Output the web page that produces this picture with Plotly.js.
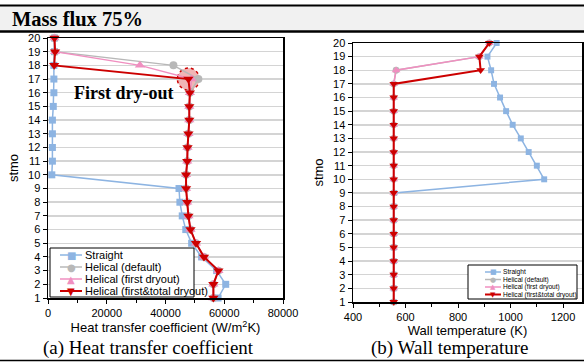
<!DOCTYPE html>
<html><head><meta charset="utf-8">
<script src="https://cdn.plot.ly/plotly-3.0.1.min.js"></script>
<style>body{margin:0;background:#fff}#c{width:584px;height:362px}</style>
</head><body><div id="c"></div>
<script>
const stmo = [1,2,3,4,5,6,7,8,9,10,11,12,13,14,15,16,17,18,19,20];
const seriesNames = ['Straight','Helical (default)','Helical (first dryout)','Helical (first&total dryout)'];
const htcStraight = [57900,60500,57400,52300,48900,46900,45700,44900,44600,1300,1500,1500,1500,1500,1800,2000,2000,2000,2200,2200];
const htcDefault  = [56300,56300,58000,53100,50400,48500,47800,47400,47000,47000,47400,47500,47800,48100,48100,48300,51200,42700,2400,2200];
const htcFirst    = [56300,56300,58000,53100,50400,48500,47800,47400,47000,47000,47400,47500,47800,48100,48100,48300,48900,31300,2400,2200];
const htcTotal    = [56300,56300,58000,53100,50400,48500,47800,47400,47000,47000,47400,47500,47800,48100,48100,48300,47800,2100,2400,2200];
const twStraight = [555,555,555,555,555,555,555,555,557,1128,1100,1069,1039,1008,983,960,937,926,912,947];
const twDefault  = [555,555,555,555,555,555,555,555,555,555,555,555,555,555,555,555,555,564,881,919];
const twFirst    = [555,555,555,555,555,555,555,555,555,555,555,555,555,555,555,555,555,564,881,919];
const twTotal    = [555,555,555,555,555,555,555,555,555,555,555,555,555,555,555,555,555,886,881,919];
const htcTicks = [0,20000,40000,60000,80000];
const twTicks = [400,600,800,1000,1200];

const W=584,H=362;
const px=x=>x/W, py=y=>1-y/H;
const colors=['#8db4e2','#b8b8b8','#f08fc0','#cc0000'];
const symbols=['square','circle','triangle-up','triangle-down'];
const widths=[1.5,1.5,1.5,2];
const sizes=[7,8,9,9];

function mk(xv, ax, ay, i, scale){
  return {x:xv, y:stmo, xaxis:ax, yaxis:ay, type:'scatter', mode:'lines+markers',
    line:{color:colors[i], width:widths[i]}, marker:{symbol:symbols[i], color:colors[i], size:sizes[i]*scale},
    cliponaxis:false, showlegend:false, name:seriesNames[i]};
}
const traces=[
  mk(htcStraight,'x','y',0,1), mk(htcDefault,'x','y',1,1), mk(htcFirst,'x','y',2,1), mk(htcTotal,'x','y',3,1),
  mk(twStraight,'x2','y2',0,0.85), mk(twDefault,'x2','y2',1,0.85), mk(twFirst,'x2','y2',2,0.85), mk(twTotal,'x2','y2',3,0.85)
];

const tickFont={family:'Liberation Sans, Arial',size:11,color:'#000'};
function yax(dom){
  return {domain:dom, range:[1,20], tickvals:stmo, ticks:'outside', ticklen:4, tickcolor:'#000',
    showline:true, linecolor:'#000', linewidth:1.5, mirror:true, showgrid:true, gridcolor:'#d4d4d4', gridwidth:1.5,
    zeroline:false, tickfont:tickFont, title:{text:'stmo', font:{family:'Liberation Sans, Arial',size:13,color:'#000'}, standoff:6}};
}
function xax(dom, range, ticks, minor, title){
  return {domain:dom, range:range, tickvals:ticks, ticktext:ticks.map(String), ticks:'outside', ticklen:4, tickcolor:'#000',
    minor:{dtick:minor, tick0:range[0], ticks:'outside', ticklen:3, tickcolor:'#000'},
    showline:true, linecolor:'#000', linewidth:1.5, mirror:true, showgrid:false, zeroline:false, tickfont:tickFont,
    title:{text:title, font:{family:'Liberation Sans, Arial',size:13,color:'#000'}, standoff:2}};
}
function topAx(base, range, ticks){
  return {overlaying:base, anchor:base==='x'?'y':'y2', side:'top', range:range, tickvals:ticks, ticks:'inside', ticklen:4,
    tickcolor:'#000', showticklabels:false, showline:false, showgrid:false, zeroline:false};
}
function rightAx(base, anchor){
  return {overlaying:base, anchor:anchor, side:'right', range:[1,20], tickvals:stmo, ticks:'inside', ticklen:3,
    tickcolor:'#000', showticklabels:false, showline:false, showgrid:false, zeroline:false};
}

const shapes=[
  {type:'rect', xref:'paper', yref:'paper', x0:0, x1:1, y0:py(31), y1:py(6), fillcolor:'#f1f1f1', line:{width:0}},
  {type:'line', xref:'paper', yref:'paper', x0:0, x1:1, y0:py(5.5), y1:py(5.5), line:{color:'#000',width:2}},
  {type:'line', xref:'paper', yref:'paper', x0:0, x1:1, y0:py(31.5), y1:py(31.5), line:{color:'#000',width:2.5}},
  {type:'line', xref:'paper', yref:'paper', x0:0, x1:1, y0:py(360.5), y1:py(360.5), line:{color:'#000',width:1.5}},
  {type:'circle', xref:'x', yref:'y', xsizemode:'pixel', ysizemode:'pixel', xanchor:htcTotal[16], yanchor:stmo[16],
   x0:-11, x1:11, y0:-11, y1:11, fillcolor:'rgba(225,90,90,0.45)', line:{color:'#cc0000', width:1.5, dash:'dot'}, layer:'below'}
];
const annotations=[
  {xref:'paper', yref:'paper', x:px(10), y:py(19), xanchor:'left', yanchor:'middle', showarrow:false, text:'<b>Mass flux 75%</b>',
   font:{family:'Liberation Serif, Times New Roman', size:20.5, color:'#000'}},
  {xref:'paper', yref:'paper', x:px(123), y:py(93), xanchor:'center', yanchor:'middle', showarrow:false, text:'<b>First dry-out</b>',
   font:{family:'Liberation Serif, Times New Roman', size:18, color:'#000'}},
  {xref:'paper', yref:'paper', x:px(148), y:py(348), xanchor:'center', yanchor:'middle', showarrow:false, text:'(a) Heat transfer coefficient',
   font:{family:'Liberation Serif, Times New Roman', size:19, color:'#000'}},
  {xref:'paper', yref:'paper', x:px(449), y:py(348), xanchor:'center', yanchor:'middle', showarrow:false, text:'(b) Wall temperature',
   font:{family:'Liberation Serif, Times New Roman', size:19, color:'#000'}}
];
// manual compact legends
const glyphs=['■','●','▲','▼'];
function legend(box, rows, lx0, lx1, tx, fs, gs, lw){
  shapes.push({type:'rect', xref:'paper', yref:'paper', x0:px(box[0]), x1:px(box[1]), y0:py(box[3]), y1:py(box[2]),
    fillcolor:'#fff', line:{color:'#000', width:1}});
  rows.forEach((ry,i)=>{
    shapes.push({type:'line', xref:'paper', yref:'paper', x0:px(lx0), x1:px(lx1), y0:py(ry), y1:py(ry), line:{color:colors[i], width:lw[i]}});
    annotations.push({xref:'paper', yref:'paper', x:px((lx0+lx1)/2), y:py(ry), xanchor:'center', yanchor:'middle', showarrow:false,
      text:glyphs[i], font:{family:'DejaVu Sans', size:gs, color:colors[i]}});
    annotations.push({xref:'paper', yref:'paper', x:px(tx), y:py(ry), xanchor:'left', yanchor:'middle', showarrow:false,
      text:seriesNames[i], font:{family:'Liberation Sans, Arial', size:fs, color:'#000'}});
  });
}
legend([50,194,248,297],[255,267,279,291],60,82,83,11,10,[1.5,1.5,1.5,2]);
legend([468,577,265,299],[272,279.5,287,294.5],485,501,501,6.6,7,[1.5,1.5,1.5,2]);

const layout={width:W, height:H, margin:{l:0,r:0,t:0,b:0}, paper_bgcolor:'#fff', plot_bgcolor:'#fff', showlegend:false,
  xaxis:xax([px(48),px(283)],[0,80000],htcTicks,10000,'Heat transfer coefficient (W/m<sup>2</sup>K)'),
  yaxis:yax([py(298),py(38)]),
  xaxis2:xax([px(353),px(582)],[400,1272],twTicks,100,'Wall temperature (K)'),
  yaxis2:yax([py(302),py(43)]),
  xaxis3:topAx('x',[0,80000],htcTicks),
  xaxis4:topAx('x2',[400,1272],twTicks),
  yaxis3:rightAx('y','x'),
  yaxis4:rightAx('y2','x2'),
  shapes:shapes, annotations:annotations};
layout.xaxis.anchor='y'; layout.yaxis.anchor='x';
layout.xaxis2.anchor='y2'; layout.yaxis2.anchor='x2';
Plotly.newPlot('c', traces, layout, {staticPlot:true});
</script></body></html>
